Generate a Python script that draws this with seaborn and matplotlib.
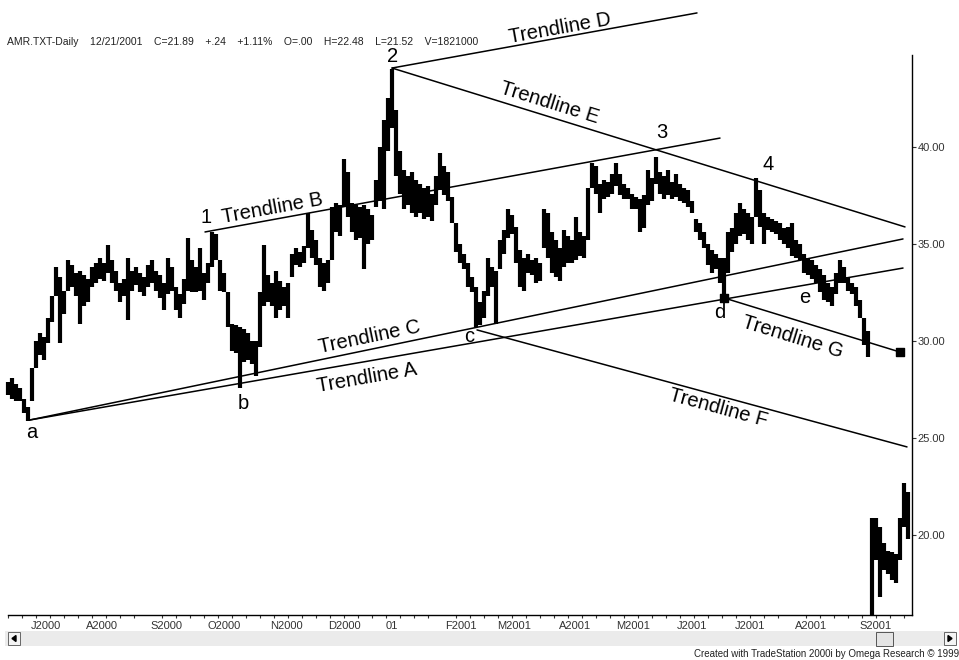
import numpy as np
import pandas as pd
import matplotlib
matplotlib.use("Agg")
import matplotlib.pyplot as plt
import matplotlib.transforms as mtransforms
from matplotlib.patches import Rectangle, Polygon
from matplotlib.ticker import MultipleLocator, FormatStrFormatter
import seaborn as sns

# AMR daily bars (one bar ~ every 1.4 sessions), Jun 2000 - Sep 2001
highs = [27.9, 28.1, 27.8, 27.6, 27.0, 26.6, 28.6, 30.0, 30.4, 30.2,
         31.2, 32.3, 33.8, 33.3, 32.6, 34.2, 33.9, 33.5, 33.6, 33.4,
         33.2, 33.8, 34.0, 34.3, 34.0, 34.95, 34.2, 33.6, 33.0, 33.2,
         34.3, 33.6, 33.8, 33.5, 33.3, 33.9, 34.2, 33.6, 33.4, 33.0,
         34.3, 33.8, 32.8, 32.4, 33.2, 35.3, 34.2, 33.8, 34.8, 33.5,
         34.0, 35.6, 35.5, 34.2, 33.5, 32.5, 30.9, 30.8, 30.7, 30.6,
         30.4, 30.0, 30.0, 32.5, 34.95, 33.4, 33.0, 33.6, 33.1, 32.8,
         33.0, 34.5, 34.8, 34.6, 34.9, 36.6, 35.7, 35.2, 34.3, 34.0,
         34.2, 36.9, 37.1, 37.0, 39.4, 38.7, 37.1, 37.0, 36.9, 37.0,
         36.8, 36.5, 38.3, 40.0, 41.4, 42.5, 44.0, 41.9, 39.8, 38.8,
         38.5, 38.7, 38.3, 38.1, 37.9, 38.0, 37.6, 38.5, 39.7, 39.0,
         38.7, 37.4, 36.1, 35.0, 34.5, 34.0, 33.3, 32.8, 32.0, 32.6,
         34.3, 33.8, 33.6, 35.2, 35.7, 36.8, 36.5, 35.9, 34.7, 34.3,
         34.5, 34.2, 34.3, 34.0, 36.8, 36.6, 35.6, 35.2, 34.8, 35.7,
         35.4, 35.2, 36.4, 35.6, 35.4, 37.9, 39.2, 39.0, 38.1, 38.3,
         38.2, 38.6, 39.2, 38.6, 38.1, 37.9, 37.6, 37.4, 37.3, 37.5,
         38.8, 38.4, 39.5, 38.7, 38.5, 38.8, 38.2, 38.6, 38.1, 37.9,
         37.8, 37.2, 36.3, 36.1, 35.6, 35.0, 34.7, 34.5, 34.3, 34.3,
         35.6, 35.8, 36.6, 37.1, 36.8, 36.6, 36.4, 38.4, 37.8, 36.6,
         36.4, 36.3, 36.2, 36.1, 35.8, 35.9, 36.1, 35.2, 35.0, 34.5,
         34.3, 34.2, 33.9, 33.7, 33.4, 33.0, 32.8, 33.5, 34.2, 33.8,
         33.3, 33.0, 32.8, 32.1, 31.2, 30.5, 20.9, 20.9, 20.4, 19.6,
         19.2, 19.1, 19.0, 20.9, 22.7, 22.2]
lows = [27.2, 27.0, 26.9, 26.9, 26.3, 25.9, 26.9, 28.6, 29.3, 29.0,
        29.9, 31.0, 32.3, 29.9, 31.4, 32.6, 32.8, 32.3, 30.9, 31.8,
        32.0, 32.8, 33.0, 33.2, 33.1, 33.5, 33.0, 32.6, 32.0, 32.3,
        31.1, 32.6, 32.9, 32.5, 32.3, 32.8, 33.0, 32.6, 32.2, 31.6,
        32.4, 32.6, 31.6, 31.2, 31.9, 32.6, 32.5, 32.5, 32.6, 32.1,
        33.0, 33.8, 34.2, 32.6, 32.5, 30.7, 29.5, 29.4, 27.6, 28.9,
        29.0, 28.8, 28.2, 29.7, 31.8, 32.0, 31.8, 31.2, 31.6, 31.8,
        31.2, 33.3, 33.9, 33.8, 34.0, 34.8, 34.3, 33.9, 32.8, 32.6,
        33.0, 34.2, 35.6, 35.4, 36.9, 36.4, 35.6, 35.2, 35.3, 33.7,
        35.0, 35.2, 36.9, 37.2, 36.8, 39.8, 41.0, 38.5, 37.6, 36.8,
        37.0, 36.6, 36.4, 36.6, 36.3, 36.4, 36.2, 37.0, 37.8, 37.5,
        37.2, 36.1, 34.6, 34.0, 33.7, 32.8, 32.5, 30.7, 30.8, 31.2,
        32.3, 32.8, 30.9, 33.7, 34.5, 35.3, 35.5, 34.0, 32.8, 32.6,
        33.5, 33.4, 33.0, 33.1, 34.8, 34.3, 33.5, 33.3, 33.1, 33.8,
        34.0, 34.0, 34.2, 34.4, 34.3, 35.2, 37.9, 37.6, 36.6, 37.3,
        37.4, 37.6, 38.0, 37.5, 37.3, 37.3, 36.8, 36.8, 35.6, 35.8,
        37.0, 37.2, 38.1, 37.6, 37.3, 37.5, 37.3, 37.4, 37.2, 37.1,
        36.9, 36.6, 35.6, 35.2, 34.8, 33.9, 33.5, 33.7, 33.0, 32.3,
        33.5, 34.6, 35.0, 35.4, 35.5, 35.2, 35.0, 36.4, 35.9, 35.0,
        35.7, 35.6, 35.5, 35.2, 35.0, 34.8, 34.4, 34.3, 34.2, 33.5,
        33.4, 33.2, 33.0, 32.5, 32.1, 32.0, 31.8, 32.4, 33.0, 33.0,
        32.6, 32.4, 31.8, 31.2, 29.8, 29.2, 15.0, 18.7, 16.8, 18.2,
        18.0, 17.7, 17.5, 18.7, 20.4, 19.8]

# month ticks (bar index) and their labels
month_pos = [5, 18.75, 35, 49.25, 64.75, 79.25, 93.75, 108.5, 121.5, 137,
             151.25, 166.5, 181, 196, 212.25, 215.5, 222.5]
month_labels = ["J2000", "A2000", "S2000", "O2000", "N2000", "D2000", "01",
                "F2001", "M2001", "A2001", "M2001", "J2001", "J2001", "A2001",
                "S2001", "", ""]
price_ticks = [20, 25, 30, 35, 40]

# trendlines: start / end (bar index, price)
trend_names = ["A", "B", "C", "D", "E", "F", "G"]
trend_x0 = [5.5, 49.25, 5.5, 96, 96, 117.25, 179]
trend_y0 = [25.93, 35.62, 25.93, 44.07, 44.07, 30.57, 32.22]
trend_x1 = [223.75, 178, 223.75, 172.25, 224.25, 224.75, 223]
trend_y1 = [33.76, 40.46, 35.26, 46.91, 35.88, 24.54, 29.43]
# where each "Trendline X" caption sits
caption_x = [89.75, 66, 90.5, 138, 135.5, 177.5, 196.25]
caption_y = [28.09, 36.86, 30.21, 46.13, 42.27, 26.55, 30.21]

# pivot labels
pivot_names = ["a", "b", "c", "d", "e", "1", "2", "3", "4"]
pivot_x = [6, 58.75, 115.25, 178, 199.25, 49.5, 96.25, 163.5, 190]
pivot_y = [25.26, 26.8, 30.21, 31.49, 32.22, 36.39, 44.64, 40.77, 39.12]

header = ("AMR.TXT-Daily    12/21/2001    C=21.89    +.24    +1.11%    O=.00    "
          "H=22.48    L=21.52    V=1821000")
footer = "Created with TradeStation 2000i by Omega Research \u00a9 1999"

sns.set_theme(style="white")
plt.rcParams["font.family"] = ["Liberation Sans", "DejaVu Sans"]

W, H = 959, 660
fig = plt.figure(figsize=(W / 100, H / 100), dpi=100)
ax = fig.add_axes([0, 45 / H, 912 / W, 615 / H])

bars = np.arange(len(highs))
ax.vlines(bars, lows, highs, color="black", linewidth=3.0)

trend_df = pd.DataFrame({"line": trend_names * 2,
                         "bar": trend_x0 + trend_x1,
                         "price": trend_y0 + trend_y1})
sns.lineplot(data=trend_df, x="bar", y="price", units="line", estimator=None,
             sort=False, color="black", linewidth=1.1, ax=ax)
g = trend_names.index("G")
ax.scatter([trend_x0[g], trend_x1[g]], [trend_y0[g], trend_y1[g]],
           marker="s", s=38, color="black", zorder=5)

ylo, ytop = 15.876, 44.742
ax.set_xlim(-2, 226)
ax.set_ylim(ylo, 47.577)
ax.set_xlabel("")
ax.set_ylabel("")

for side in ["top", "left"]:
    ax.spines[side].set_visible(False)
for side in ["right", "bottom"]:
    ax.spines[side].set_color("black")
    ax.spines[side].set_linewidth(1.0)
ax.spines["right"].set_bounds(ylo, ytop)
ax.spines["bottom"].set_bounds(0, 226)

ax.yaxis.tick_right()
ax.set_yticks(price_ticks)
ax.yaxis.set_major_formatter(FormatStrFormatter("%.2f"))
ax.tick_params(axis="y", direction="out", length=3, width=0.8, pad=1,
               labelsize=8, labelcolor="#333333", color="#333333", left=False)

ax.set_xticks(month_pos)
ax.set_xticklabels(month_labels)
ax.xaxis.set_minor_locator(MultipleLocator(3.5))
ax.tick_params(axis="x", which="major", direction="out", length=7, width=0.8,
               pad=-3, labelsize=8, labelcolor="#333333", color="#333333")
ax.tick_params(axis="x", which="minor", direction="out", length=2.5,
               width=0.8, color="#333333", bottom=True)
shift = mtransforms.ScaledTranslation(2 / 72, 0, fig.dpi_scale_trans)
for lbl in ax.get_xticklabels():
    lbl.set_horizontalalignment("left")
    lbl.set_transform(lbl.get_transform() + shift)

def slope_angle(i):
    p0, p1 = ax.transData.transform([(trend_x0[i], trend_y0[i]),
                                     (trend_x1[i], trend_y1[i])])
    return np.degrees(np.arctan2(p1[1] - p0[1], p1[0] - p0[0]))

for i, name in enumerate(trend_names):
    ax.text(caption_x[i], caption_y[i], "Trendline " + name, fontsize=14.5,
            ha="center", va="center", rotation=slope_angle(i),
            rotation_mode="anchor", color="black")

for name, x, y in zip(pivot_names, pivot_x, pivot_y):
    ax.text(x, y, name, fontsize=14.5, ha="center", va="center", color="black")

fig.text(7 / W, 1 - 42 / H, header, fontsize=7.5, va="center",
         color="#222222")
fig.text(694 / W, 1 - 654 / H, footer, fontsize=7, va="center",
         color="#222222")

# scroll bar under the chart
def fx(px):
    return px / W

def fy(py):
    return 1 - py / H

fig.add_artist(Rectangle((fx(5), fy(646)), 950 / W, 15 / H,
                         transform=fig.transFigure, facecolor="#ebebeb",
                         edgecolor="none"))
for left in (8, 944):
    fig.add_artist(Rectangle((fx(left), fy(645)), 12 / W, 13 / H,
                             transform=fig.transFigure, facecolor="#f4f4f4",
                             edgecolor="#666666", linewidth=0.7))
fig.add_artist(Polygon([(fx(12), fy(638.5)), (fx(16), fy(635.5)),
                        (fx(16), fy(641.5))], closed=True,
                       transform=fig.transFigure, color="black"))
fig.add_artist(Polygon([(fx(952), fy(638.5)), (fx(948), fy(635.5)),
                        (fx(948), fy(641.5))], closed=True,
                       transform=fig.transFigure, color="black"))
fig.add_artist(Rectangle((fx(876), fy(646)), 17 / W, 14 / H,
                         transform=fig.transFigure, facecolor="#e4e4e4",
                         edgecolor="#555555", linewidth=0.7))

fig.savefig("out.png", dpi=100)
